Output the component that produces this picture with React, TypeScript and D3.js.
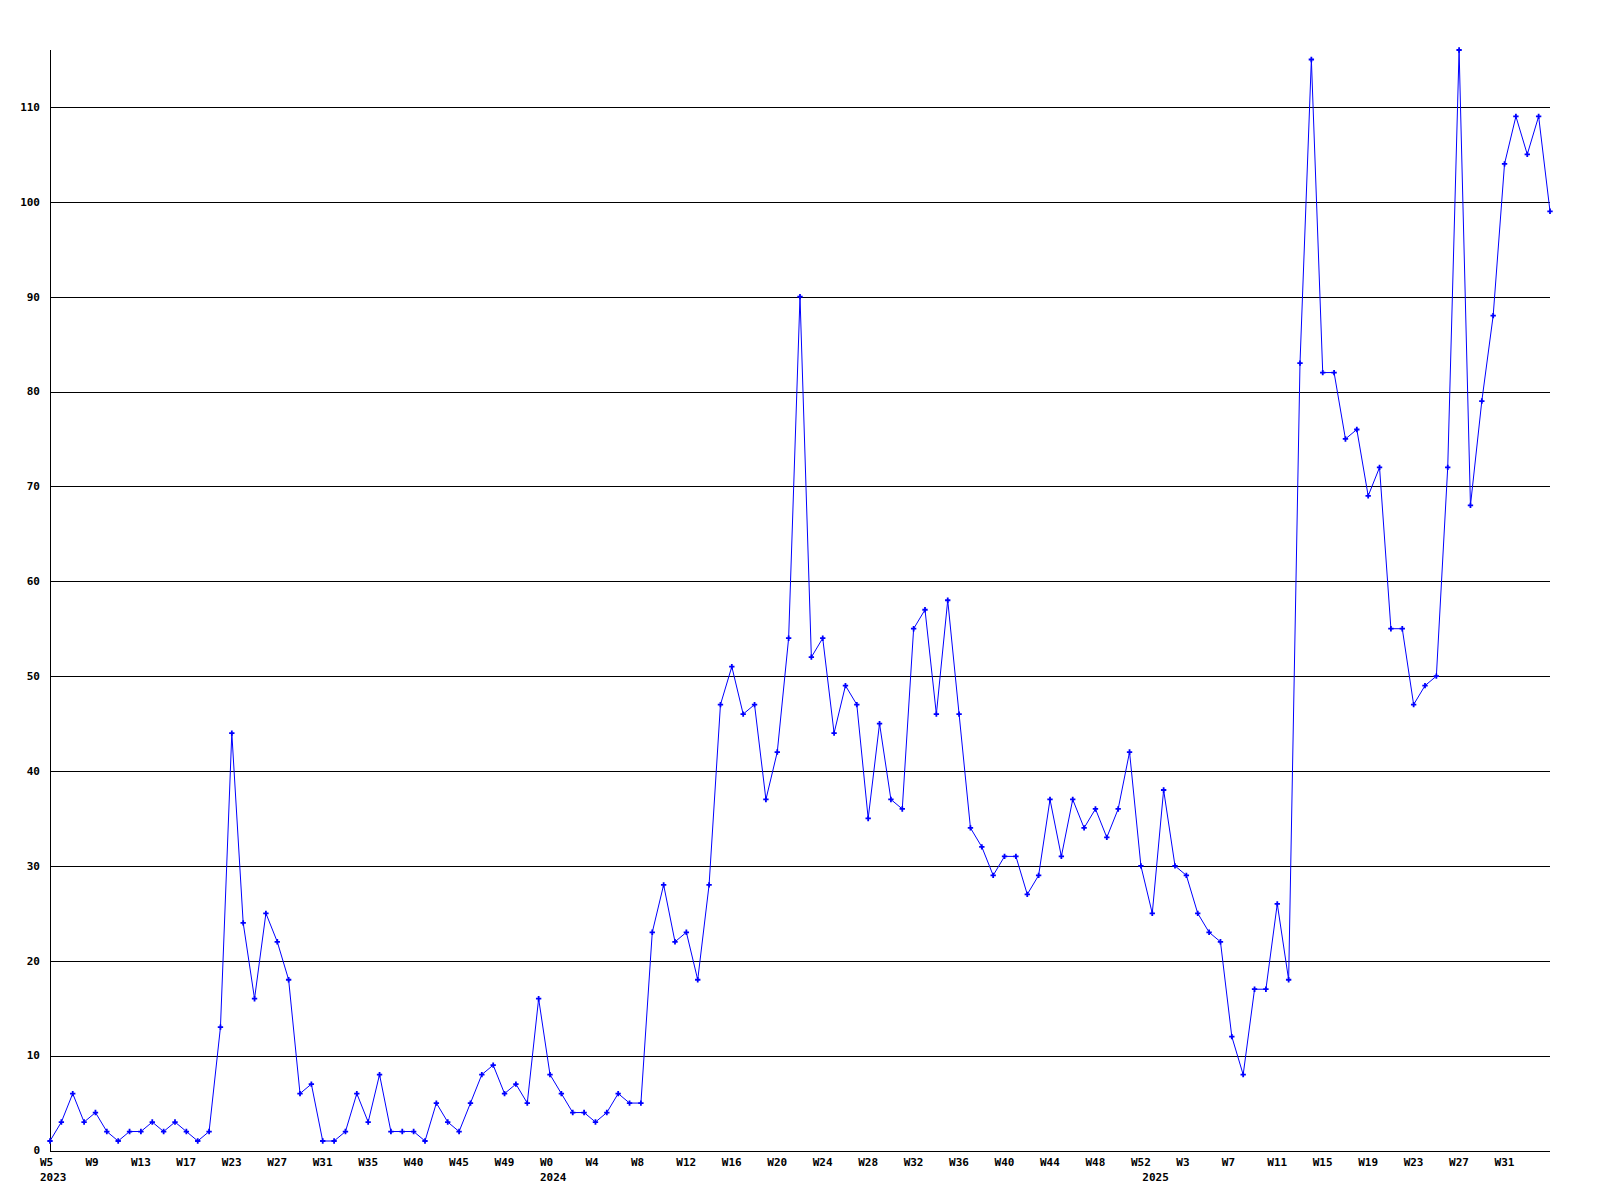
import React from "react";
import * as d3 from "d3";

const values: number[] = [
  1, 3, 6, 3, 4, 2, 1, 2, 2, 3, 2, 3, 2, 1, 2, 13, 44, 24, 16, 25, 22, 18, 6, 7, 1, 1, 2, 6, 3, 8,
  2, 2, 2, 1, 5, 3, 2, 5, 8, 9, 6, 7, 5, 16, 8, 6, 4, 4, 3, 4, 6, 5, 5, 23, 28, 22, 23, 18, 28, 47,
  51, 46, 47, 37, 42, 54, 90, 52, 54, 44, 49, 47, 35, 45, 37, 36, 55, 57, 46, 58, 46, 34, 32, 29, 31, 31,
  27, 29, 37, 31, 37, 34, 36, 33, 36, 42, 30, 25, 38, 30, 29, 25, 23, 22, 12, 8, 17, 17, 26, 18, 83,
  115, 82, 82, 75, 76, 69, 72, 55, 55, 47, 49, 50, 72, 116, 68, 79, 88, 104, 109, 105, 109, 99,
];

const weekLabels: string[] = [
  "W5", "W9", "W13", "W17", "W23", "W27", "W31", "W35", "W40", "W45", "W49",
  "W0", "W4", "W8", "W12", "W16", "W20", "W24", "W28", "W32", "W36", "W40", "W44", "W48", "W52",
  "W3", "W7", "W11", "W15", "W19", "W23", "W27", "W31",
];
const weekLabelStep = 4;

const yearLabels: string[] = ["2023", "2024", "2025"];
const yearLabelIndex: number[] = [0, 44, 97];

const yTicks: number[] = [0, 10, 20, 30, 40, 50, 60, 70, 80, 90, 100, 110];

export default function App() {
  const left = 50, right = 1550, top = 50, bottom = 1150.5;
  const x = d3.scaleLinear().domain([0, values.length - 1]).range([left, right]);
  const y = d3.scaleLinear().domain([0, d3.max(values) as number]).range([bottom, top]);
  const line = d3.line<number>().x((_, i) => x(i)).y((d) => y(d));
  const sym = d3.symbol().type(d3.symbolCross).size(16)() as string;
  const font = "'DejaVu Sans Mono', monospace";
  const snap = (v: number) => Math.round(v) + 0.5;

  return (
    <svg width={1600} height={1200} style={{ position: "absolute", left: 0, top: 0, background: "#fff" }}>
      <rect width={1600} height={1200} fill="#fff" />
      {yTicks.filter((t) => t > 0).map((t) => (
        <line key={t} x1={left} x2={right} y1={snap(y(t))} y2={snap(y(t))} stroke="#000" strokeWidth={1} />
      ))}
      <line x1={left + 0.5} x2={left + 0.5} y1={top} y2={snap(bottom)} stroke="#000" strokeWidth={1} />
      <line x1={left} x2={right} y1={snap(bottom)} y2={snap(bottom)} stroke="#000" strokeWidth={1} />
      {yTicks.map((t) => (
        <text key={t} x={40} y={y(t)} dy="0.35em" textAnchor="end" fontFamily={font} fontWeight="bold" fontSize={11} fill="#000">
          {t}
        </text>
      ))}
      {weekLabels.map((w, i) => (
        <text key={i} x={x(i * weekLabelStep) - 10} y={1166} textAnchor="start" fontFamily={font} fontWeight="bold" fontSize={11} fill="#000">
          {w}
        </text>
      ))}
      {yearLabels.map((yl, i) => (
        <text key={yl} x={x(yearLabelIndex[i]) - 10} y={1181} textAnchor="start" fontFamily={font} fontWeight="bold" fontSize={11} fill="#000">
          {yl}
        </text>
      ))}
      <path d={line(values) as string} fill="none" stroke="#0000ff" strokeWidth={1} />
      {values.map((v, i) => (
        <path key={i} d={sym} transform={`translate(${x(i)},${y(v)})`} fill="#0000ff" />
      ))}
    </svg>
  );
}
